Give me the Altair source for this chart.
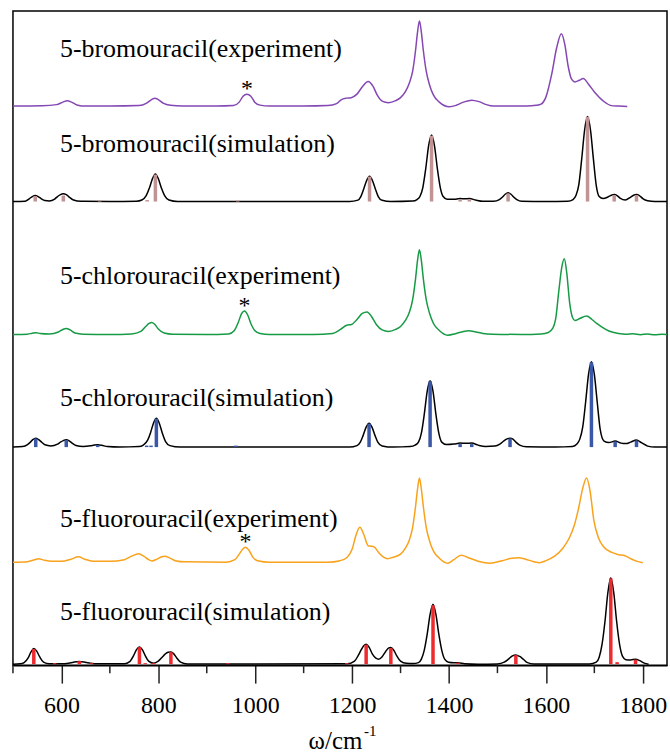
import altair as alt
import pandas as pd

# Raman spectra of 5-halouracils: measured vs. computed, stacked vertically
X_MIN, X_MAX = 500, 1850

# ---- measured / broadened spectra: (wavenumber cm^-1, relative intensity) ----
br_exp = [(500, 0), (560, 0.3), (590, 1.5), (603, 4), (612, 5.3), (621, 4), (632, 1.2), (650, 0),
          (700, 0), (760, 0.5), (776, 3), (786, 6.5), (793, 8), (800, 6.5), (810, 3), (825, 0.8), (850, 0),
          (920, 0), (955, 0.5), (967, 4), (975, 10), (983, 12), (991, 10), (999, 4), (1010, 1), (1030, 0),
          (1100, 0), (1150, 0.5), (1168, 2.5), (1178, 6.5), (1188, 8), (1198, 8.5), (1210, 12), (1222, 20),
          (1233, 24.6), (1243, 20), (1252, 11), (1262, 5), (1275, 3.5), (1290, 5.5), (1300, 8.5), (1310, 14.5),
          (1318, 23), (1325, 35), (1331, 56), (1335, 74), (1339, 85.3), (1343, 74), (1347, 56), (1353, 35),
          (1360, 21), (1368, 11), (1380, 4), (1401, -0.7), (1415, 0.8), (1430, 4), (1447, 6), (1462, 4.5),
          (1477, 1.5), (1492, 0),
          (1560, 0), (1580, 0.8), (1590, 2), (1600, 9), (1612, 32), (1622, 58), (1632, 72.6), (1639, 62),
          (1646, 40), (1653, 27), (1660, 24.3), (1669, 26), (1677, 27.6), (1688, 22), (1701, 13.6),
          (1718, 5.3), (1735, 0.5), (1750, 0), (1768, -0.5)]

br_sim = [(500, 0), (525, 0.3), (534, 3), (540, 5), (546, 6), (552, 5), (558, 3), (566, 1), (575, 0.6),
          (586, 2.5), (592, 5), (598, 7), (604, 7.7), (610, 7), (616, 4.5), (625, 1.5), (640, 0.2), (700, 0),
          (755, 0.3), (766, 1.5), (775, 6), (782, 14), (788, 23), (794, 27.7), (800, 23), (806, 14), (813, 6),
          (822, 1.5), (840, 0), (1195, 0), (1212, 1.4), (1218, 5), (1224, 12.6), (1230, 21), (1236, 25.3),
          (1242, 21), (1248, 12.6), (1254, 5), (1262, 1.2), (1280, 0), (1325, 0.5), (1334, 2), (1340, 5),
          (1346, 14), (1352, 33), (1358, 56), (1364, 66.7), (1370, 56), (1376, 33), (1382, 14), (1388, 5),
          (1396, 2.3), (1410, 2.3), (1423, 3), (1432, 2.8), (1442, 3), (1455, 1.5), (1470, 0.3), (1492, 0.3),
          (1504, 2), (1510, 4.3), (1516, 7.3), (1522, 8.7), (1528, 7.3), (1534, 4.3), (1540, 2), (1550, 0.3),
          (1600, 0), (1645, 0.3), (1656, 2), (1662, 6), (1668, 17), (1674, 43), (1680, 72), (1686, 85.3),
          (1692, 72), (1698, 43), (1704, 16), (1710, 5), (1718, 3), (1728, 4.5), (1735, 6.3), (1741, 7),
          (1747, 6), (1753, 3.5), (1764, 1.5), (1775, 4.5), (1781, 6.3), (1787, 7), (1793, 6), (1800, 3),
          (1810, 0.8), (1825, 0), (1850, 0)]

cl_exp = [(500, 0), (530, 0.3), (540, 1.2), (548, 1.7), (556, 1), (575, 0.5), (594, 2.5), (603, 5), (610, 6),
          (618, 4.5), (628, 1.5), (645, 0.3), (700, 0), (745, 0.5), (764, 3), (774, 8), (781, 11), (786, 12),
          (792, 10.5), (800, 5.5), (812, 1.5), (830, 0.3), (900, 0), (945, 0.5), (957, 4), (965, 12), (972, 21),
          (978, 23.6), (984, 20), (991, 11), (999, 4), (1010, 1), (1030, 0), (1120, 0), (1160, 1), (1176, 5),
          (1189, 9.3), (1199, 10), (1210, 15), (1221, 21), (1231, 22.6), (1240, 18), (1250, 10), (1262, 4.5),
          (1275, 3), (1290, 5), (1300, 8), (1310, 14), (1318, 22), (1325, 35), (1331, 56), (1335, 74),
          (1339, 85), (1343, 74), (1347, 56), (1353, 35), (1360, 21), (1368, 11), (1380, 4), (1397, -0.7),
          (1415, 1), (1430, 3), (1441, 3.6), (1455, 2.5), (1470, 1), (1490, 0.3), (1550, 0), (1590, 0.5),
          (1605, 2), (1614, 6), (1620, 15), (1627, 45), (1633, 68), (1638, 76), (1643, 62), (1649, 32),
          (1655, 17), (1660, 14), (1670, 16), (1684, 18.6), (1695, 15), (1705, 11), (1715, 7.6), (1730, 3.5),
          (1750, 1), (1765, 0.2), (1780, 0.6), (1795, -0.2), (1810, 0.4), (1825, -0.3), (1840, 0.3), (1850, 0)]

cl_sim = [(500, 0), (520, 0.5), (530, 2.5), (536, 5), (541, 7.5), (547, 9), (553, 7.5), (559, 5), (566, 2.3),
          (578, 1.2), (592, 3), (598, 5), (604, 6.5), (610, 7.3), (616, 6.3), (622, 4), (630, 1.6), (645, 0.6),
          (660, 1.3), (668, 2), (675, 2.3), (683, 1.8), (695, 0.5), (720, 0), (760, 0.5), (769, 2), (778, 7),
          (784, 14.5), (790, 24), (796, 29), (802, 24), (808, 14.5), (815, 5.5), (824, 1.5), (845, 0),
          (1195, 0), (1210, 1.5), (1217, 5), (1223, 12), (1229, 20), (1235, 24), (1241, 20), (1247, 12),
          (1253, 5), (1262, 1.2), (1285, 0), (1320, 0.5), (1330, 2), (1337, 5), (1343, 14), (1349, 33),
          (1355, 56), (1361, 66.6), (1367, 56), (1373, 33), (1379, 14), (1385, 5), (1395, 2.5), (1410, 3),
          (1423, 4), (1435, 3.8), (1447, 4), (1460, 2), (1475, 0.6), (1495, 1), (1505, 3), (1514, 6.5),
          (1520, 8.3), (1526, 9), (1532, 8), (1538, 5), (1546, 2), (1560, 0.3), (1620, 0), (1655, 0.5),
          (1664, 3), (1670, 8), (1676, 20), (1682, 45), (1688, 73), (1694, 85.6), (1700, 73), (1706, 45),
          (1712, 18), (1720, 6), (1730, 4.5), (1743, 6), (1755, 4), (1765, 3.5), (1775, 5), (1787, 7),
          (1797, 4.5), (1810, 1), (1825, 0), (1850, 0)]

f_exp = [(500, 0), (530, 0.5), (545, 2.5), (553, 3.4), (562, 2.3), (580, 0.8), (600, 0.8), (620, 3), (635, 5.4),
         (648, 3), (665, 1), (700, 0.8), (730, 2.5), (745, 6), (759, 8.4), (770, 6), (780, 2.5), (787, 1.2),
         (797, 3), (807, 5.5), (814, 6), (822, 4.5), (835, 1.5), (855, 0.3), (940, 0), (958, 2.5), (967, 8),
         (974, 13), (980, 15), (987, 12), (995, 5), (1005, 1.5), (1030, 0), (1150, 0), (1175, 1.5), (1190, 5),
         (1200, 13), (1208, 27), (1216, 35), (1224, 28), (1233, 16.5), (1240, 16), (1246, 15), (1256, 9),
         (1265, 5), (1273, 3.5), (1285, 5), (1300, 8), (1310, 14), (1318, 22), (1325, 35), (1331, 56),
         (1335, 73), (1339, 84.4), (1343, 73), (1347, 56), (1353, 35), (1360, 21), (1368, 11), (1380, 4),
         (1397, -1), (1410, 2.5), (1425, 7), (1440, 4.5), (1460, 1), (1485, -1), (1510, 1.5), (1530, 4),
         (1543, 4.4), (1558, 3), (1575, 0.5), (1587, -0.5), (1600, 1.5), (1618, 6), (1635, 14), (1648, 24),
         (1658, 36), (1667, 53), (1676, 74), (1684, 84.4), (1691, 72), (1699, 42), (1708, 25), (1720, 15),
         (1735, 10), (1750, 7.5), (1763, 6.5), (1775, 3.5), (1787, 1), (1800, -0.5)]

f_sim = [(500, 0), (515, 0.3), (523, 1.5), (531, 6), (537, 12), (543, 15.7), (549, 13), (555, 7.5), (563, 2),
         (575, 0.3), (600, 0.3), (615, 1), (625, 2), (637, 2.7), (649, 2), (660, 1), (675, 0.3), (730, 0.3),
         (741, 2.5), (749, 8.5), (755, 14.5), (761, 17.3), (767, 14.5), (773, 8.5), (780, 3), (790, 1),
         (800, 3), (808, 7), (814, 10), (820, 12), (826, 12.3), (832, 10.3), (838, 6.2), (846, 2), (860, 0.2),
         (1190, 0.3), (1205, 3), (1213, 9), (1219, 14.5), (1224, 18.5), (1229, 20), (1235, 17), (1242, 10),
         (1249, 6), (1255, 5), (1262, 7.5), (1269, 12.5), (1275, 16), (1280, 16.7), (1286, 14), (1292, 8.5),
         (1300, 3), (1312, 0.8), (1326, 0.6), (1337, 1.5), (1343, 5), (1349, 14), (1355, 30), (1361, 50),
         (1367, 60), (1373, 50), (1379, 30), (1385, 14), (1391, 5), (1399, 2), (1410, 1.5), (1419, 1.5),
         (1432, 0.5), (1460, 0), (1500, 0.2), (1514, 2), (1522, 4.7), (1530, 8), (1538, 9.3), (1546, 7.7),
         (1554, 4.7), (1562, 1.5), (1575, 0.2), (1690, 0.2), (1704, 2), (1710, 7), (1716, 20), (1722, 43),
         (1728, 72), (1734, 86.7), (1740, 72), (1746, 43), (1752, 20), (1758, 8), (1765, 4.5), (1775, 4.2),
         (1785, 5), (1794, 3.5), (1803, 1), (1812, 0)]

# ---- computed transitions: (wavenumber cm^-1, intensity) ----
br_sticks = [(546, 5.5), (604, 6), (679, 1), (777, 1.5), (794, 27), (964, 1), (1236, 25), (1364, 66),
             (1423, 2.5), (1442, 2.5), (1522, 8), (1686, 85), (1741, 6.5), (1787, 6.5)]
cl_sticks = [(547, 8.5), (610, 7), (675, 2), (776, 1.5), (785, 1.5), (796, 28.5), (960, 1.5), (1235, 23.5),
             (1361, 66), (1423, 3), (1447, 3), (1526, 8.5), (1694, 85), (1743, 5.5), (1787, 6.5)]
f_sticks = [(543, 15), (586, 1), (637, 3), (662, 1), (761, 17), (773, 1), (790, 1), (826, 12), (944, 1),
            (1189, 1), (1229, 19.5), (1280, 16), (1367, 59), (1419, 1.5), (1538, 9), (1734, 86), (1747, 2),
            (1785, 4.5)]

# peaks flagged with an asterisk in each measured spectrum (wavenumber, peak intensity)
star_peaks = [("br_exp", 983, 12), ("cl_exp", 978, 23.6), ("f_exp", 980, 15)]

traces = ["br_exp", "br_sim", "cl_exp", "cl_sim", "f_exp", "f_sim"]
spectra = [br_exp, br_sim, cl_exp, cl_sim, f_exp, f_sim]
names = ["5-bromouracil(experiment)", "5-bromouracil(simulation)",
         "5-chlorouracil(experiment)", "5-chlorouracil(simulation)",
         "5-fluorouracil(experiment)", "5-fluorouracil(simulation)"]

# ---- styling / stacking layout ----
line_colors = {"br_exp": "#8447b3", "br_sim": "#000000", "cl_exp": "#179a46",
               "cl_sim": "#000000", "f_exp": "#f9a21b", "f_sim": "#000000"}
stick_sets = [("br_sim", br_sticks, "#c09494"), ("cl_sim", cl_sticks, "#3a57a8"), ("f_sim", f_sticks, "#ee2a2e")]
offsets = {"br_exp": 560.7, "br_sim": 465, "cl_exp": 331.7, "cl_sim": 218.7, "f_exp": 103.3, "f_sim": 1}
label_pos = {"br_exp": 610, "br_sim": 515, "cl_exp": 382, "cl_sim": 260, "f_exp": 139, "f_sim": 45}
LABEL_X = 597
FONT = "'Liberation Serif', 'DejaVu Serif', serif"
W, H = 656, 656

curve_rows = []
for t, pts in zip(traces, spectra):
    for wn, v in pts:
        curve_rows.append({"trace": t, "wn": wn, "v": offsets[t] + v, "col": line_colors[t]})
curves_df = pd.DataFrame(curve_rows)

stick_rows = []
for t, sticks, col in stick_sets:
    for wn, v in sticks:
        stick_rows.append({"trace": t, "wn": wn, "y0": offsets[t], "y1": offsets[t] + v, "col": col})
sticks_df = pd.DataFrame(stick_rows)

label_df = pd.DataFrame([{"wn": LABEL_X, "v": label_pos[t], "text": n} for t, n in zip(traces, names)])
star_df = pd.DataFrame([{"wn": wn, "v": offsets[t] + h - 2, "text": "*"} for t, wn, h in star_peaks])
minor_df = pd.DataFrame({"wn": [500, 700, 900, 1100, 1300, 1500, 1700]})

xscale = alt.Scale(domain=[X_MIN, X_MAX], nice=False, zero=False)
yscale = alt.Scale(domain=[0, H], nice=False, zero=False)

xaxis = alt.Axis(values=[600, 800, 1000, 1200, 1400, 1600, 1800], format="d", grid=False,
                 tickSize=18, tickWidth=1.5, tickColor="#222222", domainColor="black", domainWidth=1.5,
                 labelFont=FONT, labelFontSize=24, labelColor="black", labelPadding=10, labelOverlap=False,
                 labelFlush=False,
                 title="ω/cm", titleFont=FONT, titleFontSize=25, titleFontWeight="normal", titleColor="black",
                 titleX=323, titleY=84, titleBaseline="alphabetic", titleAlign="center")

curves = alt.Chart(curves_df).mark_line(strokeWidth=1.5, interpolate="monotone").encode(
    x=alt.X("wn:Q", scale=xscale, axis=xaxis),
    y=alt.Y("v:Q", scale=yscale, axis=None),
    color=alt.Color("col:N", scale=None),
    detail="trace:N",
)

sticks = alt.Chart(sticks_df).mark_rule(strokeWidth=3.5).encode(
    x=alt.X("wn:Q", scale=xscale),
    y=alt.Y("y0:Q", scale=yscale),
    y2="y1:Q",
    color=alt.Color("col:N", scale=None),
)

labels = alt.Chart(label_df).mark_text(align="left", baseline="alphabetic", font=FONT, fontSize=26,
                                       color="black").encode(
    x=alt.X("wn:Q", scale=xscale), y=alt.Y("v:Q", scale=yscale), text="text:N")

stars = alt.Chart(star_df).mark_text(align="center", baseline="alphabetic", font=FONT, fontSize=24,
                                     color="black").encode(
    x=alt.X("wn:Q", scale=xscale), y=alt.Y("v:Q", scale=yscale), text="text:N")

minor_ticks = alt.Chart(minor_df).mark_rule(color="#222222", strokeWidth=1.5).encode(
    x=alt.X("wn:Q", scale=xscale), y=alt.value(H), y2=alt.value(H + 8))

superscript = alt.Chart(pd.DataFrame({"t": ["-1"]})).mark_text(
    align="left", baseline="alphabetic", font=FONT, fontSize=15, color="black").encode(
    x=alt.value(352), y=alt.value(H + 71), text="t:N")

chart = alt.layer(curves, sticks, labels, stars, minor_ticks, superscript).properties(
    width=W, height=H, padding={"left": 10, "top": 10, "right": 0, "bottom": 5}
).configure_view(stroke="black", strokeWidth=1.5)

chart.save("out.html", embed_options={"renderer": "svg", "actions": False})
